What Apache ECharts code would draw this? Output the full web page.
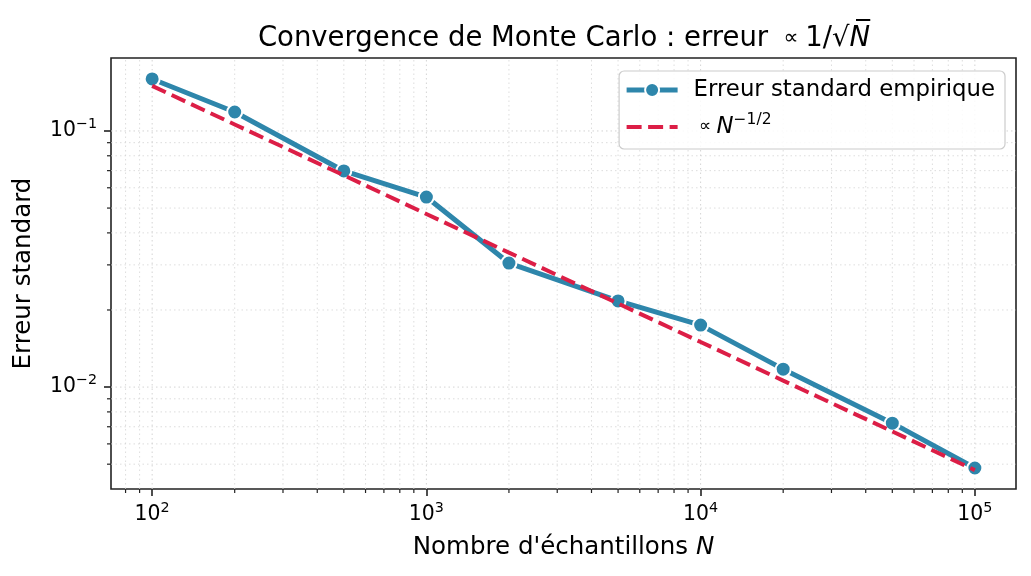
<!DOCTYPE html>
<html><head><meta charset="utf-8">
<script src="https://cdn.jsdelivr.net/npm/echarts@6/dist/echarts.min.js"></script>
<style>html,body{margin:0;padding:0;background:#fff}#c{width:1031px;height:576px}</style>
</head><body><div id="c"></div>
<script>
const N = [100, 200, 500, 1000, 2000, 5000, 10000, 20000, 50000, 100000];
const errEmp = [0.1596, 0.1186, 0.0698, 0.0552, 0.0305, 0.0217, 0.01746, 0.01175, 0.00723, 0.00483];
const errRef = [0.150, 0.106, 0.0671, 0.0474, 0.0335, 0.0212, 0.0150, 0.0106, 0.00671, 0.00474];
const xMinorTicks = [80, 90, 200, 300, 400, 500, 600, 700, 800, 900, 2000, 3000, 4000, 5000, 6000, 7000, 8000, 9000, 20000, 30000, 40000, 50000, 60000, 70000, 80000, 90000];
const yMinorTicks = [0.005, 0.006, 0.007, 0.008, 0.009, 0.02, 0.03, 0.04, 0.05, 0.06, 0.07, 0.08, 0.09];
const xMajorTicks = [100, 1000, 10000, 100000];
const yMajorTicks = [0.01, 0.1];
const X_MIN = 70.79, X_MAX = 141254, Y_MIN = 0.00400, Y_MAX = 0.1927;

const FONT = 'DejaVu Sans';
const BLUE = '#2E86AB', RED = '#DC1E46';
const chart = echarts.init(document.getElementById('c'), null, {renderer: 'canvas'});

function supLabel(v) {
  const e = Math.round(Math.log10(v));
  return '{b|10}{s|' + (e < 0 ? '\u2212' + (-e) : e) + '}';
}
const tickRich = {
  b: {fontFamily: FONT, fontSize: 20.4, color: '#000'},
  s: {fontFamily: FONT, fontSize: 14.3, color: '#000', padding: [0, 0, 13, 0]}
};

function vGridSeries(vals, isMajor) {
  return {
    type: 'custom', silent: true, z: 1, clip: false,
    data: vals.map(v => [v, Y_MIN]),
    renderItem: function (params, api) {
      const top = api.coord([api.value(0), Y_MAX]);
      const bot = api.coord([api.value(0), Y_MIN]);
      const children = [{
        type: 'line', shape: {x1: bot[0], y1: bot[1], x2: top[0], y2: top[1]},
        style: {stroke: '#d4d4d4', lineWidth: isMajor ? 1 : 0.8, lineDash: [1.5, 3]}
      }];
      if (!isMajor) children.push({
        type: 'line', shape: {x1: bot[0], y1: bot[1], x2: bot[0], y2: bot[1] + 4},
        style: {stroke: '#222', lineWidth: 1.2}
      });
      return {type: 'group', children: children};
    }
  };
}
function hGridSeries(vals, isMajor) {
  return {
    type: 'custom', silent: true, z: 1, clip: false,
    data: vals.map(v => [X_MIN, v]),
    renderItem: function (params, api) {
      const l = api.coord([X_MIN, api.value(1)]);
      const r = api.coord([X_MAX, api.value(1)]);
      const children = [{
        type: 'line', shape: {x1: l[0], y1: l[1], x2: r[0], y2: r[1]},
        style: {stroke: '#d4d4d4', lineWidth: isMajor ? 1 : 0.8, lineDash: [1.5, 3]}
      }];
      if (!isMajor) children.push({
        type: 'line', shape: {x1: l[0], y1: l[1], x2: l[0] - 4, y2: l[1]},
        style: {stroke: '#222', lineWidth: 1.2}
      });
      return {type: 'group', children: children};
    }
  };
}

chart.setOption({
  backgroundColor: '#fff',
  animation: false,
  title: {
    text: 'Convergence de Monte Carlo : erreur {s| \u221d }1/\u221a{i|N\u0305}',
    left: 559, top: 20, textAlign: 'center',
    textStyle: {fontFamily: FONT, fontSize: 27.5, fontWeight: 'normal', color: '#000',
      rich: {
        s: {fontFamily: FONT, fontSize: 21, color: '#000'},
        i: {fontFamily: FONT, fontSize: 27.5, fontStyle: 'italic', color: '#000'}
      }}
  },
  grid: {left: 111, right: 15, top: 58, bottom: 87, show: true, borderColor: '#222', borderWidth: 1.6, backgroundColor: 'transparent'},
  legend: {
    right: 26, top: 71, orient: 'vertical', itemGap: 9,
    itemWidth: 51, itemHeight: 17.5,
    padding: [6, 10, 9, 5],
    borderColor: '#cccccc', borderWidth: 1.2, borderRadius: 5, backgroundColor: 'rgba(255,255,255,0.85)',
    textStyle: {fontFamily: FONT, fontSize: 22.8, color: '#000', lineHeight: 26, padding: [0, 0, 0, 11],
      rich: {
        p: {fontFamily: FONT, fontSize: 17, color: '#000', lineHeight: 26},
        i: {fontFamily: FONT, fontSize: 22.8, fontStyle: 'italic', color: '#000', lineHeight: 26},
        s: {fontFamily: FONT, fontSize: 15.5, color: '#000', padding: [0, 0, 14, 0]}
      }},
    formatter: function (name) {
      if (name === 'ref') return '{p| \u221d }{i|N}{s|\u22121/2}';
      return name;
    },
    data: [
      {name: 'Erreur standard empirique', lineStyle: {color: BLUE, width: 5}},
      {name: 'ref', lineStyle: {color: RED, width: 4, type: [15, 6.5]}}
    ]
  },
  xAxis: {
    type: 'log', logBase: 10, min: X_MIN, max: X_MAX,
    name: "Nombre d'\u00e9chantillons {i|N}", nameLocation: 'middle', nameGap: 46,
    nameTextStyle: {fontFamily: FONT, fontSize: 24.5, color: '#000',
      rich: {i: {fontFamily: FONT, fontSize: 24.5, fontStyle: 'italic', color: '#000'}}},
    axisLine: {show: false},
    axisTick: {show: true, length: 7, lineStyle: {color: '#222', width: 1.6}},
    axisLabel: {formatter: supLabel, rich: tickRich, margin: 12, showMinLabel: false, showMaxLabel: false},
    splitLine: {show: false}
  },
  yAxis: {
    type: 'log', logBase: 10, min: Y_MIN, max: Y_MAX,
    name: 'Erreur standard', nameLocation: 'middle', nameGap: 75,
    nameTextStyle: {fontFamily: FONT, fontSize: 24.5, color: '#000'},
    axisLine: {show: false},
    axisTick: {show: true, length: 7, lineStyle: {color: '#222', width: 1.6}},
    axisLabel: {formatter: supLabel, rich: tickRich, margin: 14, showMinLabel: false, showMaxLabel: false},
    splitLine: {show: false}
  },
  series: [
    vGridSeries(xMinorTicks, false),
    vGridSeries(xMajorTicks, true),
    hGridSeries(yMinorTicks, false),
    hGridSeries(yMajorTicks, true),
    {
      name: 'Erreur standard empirique', type: 'line', z: 3,
      data: N.map((n, i) => [n, errEmp[i]]),
      symbol: 'circle', symbolSize: 15,
      lineStyle: {color: BLUE, width: 5},
      itemStyle: {color: BLUE, borderColor: '#fff', borderWidth: 2}
    },
    {
      name: 'ref', type: 'line', z: 4,
      data: N.map((n, i) => [n, errRef[i]]),
      symbol: 'circle', showSymbol: false,
      lineStyle: {color: RED, width: 4, type: [15, 6.5]},
      itemStyle: {color: RED, opacity: 0}
    }
  ]
});
</script></body></html>
